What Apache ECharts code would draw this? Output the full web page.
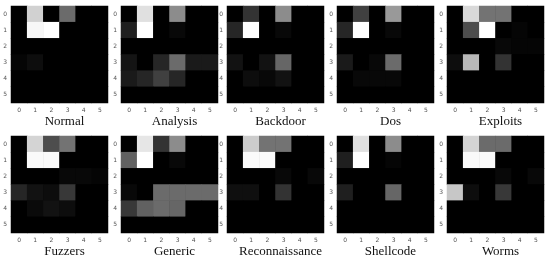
<!DOCTYPE html>
<html><head><meta charset="utf-8">
<script src="https://cdn.jsdelivr.net/npm/echarts@6/dist/echarts.min.js"></script>
<style>html,body{margin:0;padding:0;background:#fff}#c{width:550px;height:260px}</style>
</head><body><div id="c"></div>
<script>
var ticks = ['0','1','2','3','4','5'];
var titles = ['Normal','Analysis','Backdoor','Dos','Exploits','Fuzzers','Generic','Reconnaissance','Shellcode','Worms'];

var normal = [
  [0,0.82,0,0.42,0,0],
  [0,0.97,1.0,0,0,0],
  [0,0,0,0,0,0],
  [0.02,0.05,0,0,0,0],
  [0,0,0,0,0,0],
  [0,0,0,0,0,0]];
var analysis = [
  [0,0.88,0,0.55,0,0],
  [0.12,1.0,0,0.03,0,0],
  [0,0,0,0,0,0],
  [0.08,0,0.15,0.42,0.1,0.1],
  [0.1,0.15,0.25,0.15,0,0],
  [0,0,0,0,0,0]];
var backdoor = [
  [0,0.2,0,0.55,0,0],
  [0.15,1.0,0,0.03,0,0],
  [0,0,0,0,0,0],
  [0.07,0,0.07,0.4,0,0],
  [0,0.05,0.03,0.07,0,0],
  [0,0,0,0,0,0]];
var dos = [
  [0,0.25,0,0.6,0,0],
  [0.15,1.0,0,0.03,0,0],
  [0,0,0,0,0,0],
  [0.1,0,0.03,0.42,0,0],
  [0,0.03,0.03,0.03,0,0],
  [0,0,0,0,0,0]];
var exploits = [
  [0,0.85,0.45,0.45,0,0],
  [0,0.3,1.0,0,0.02,0],
  [0,0,0,0.03,0.02,0.02],
  [0.05,0.72,0,0.2,0,0],
  [0,0,0,0,0,0],
  [0,0,0,0,0,0]];
var fuzzers = [
  [0,0.83,0.3,0.45,0,0],
  [0,0.98,0.98,0,0,0],
  [0,0,0,0.03,0.03,0.02],
  [0.15,0.07,0.05,0.22,0,0],
  [0,0.04,0.07,0.05,0,0],
  [0,0,0,0,0,0]];
var generic = [
  [0,0.9,0.2,0.55,0,0],
  [0.38,1.0,0,0.03,0,0],
  [0,0,0,0,0,0],
  [0.03,0,0.42,0.42,0.42,0.42],
  [0.22,0.38,0.42,0.4,0,0],
  [0,0,0,0,0,0]];
var reconnaissance = [
  [0,0.8,0.45,0.45,0,0],
  [0,0.98,0.98,0,0,0],
  [0,0,0,0.03,0,0.03],
  [0.06,0.06,0,0.2,0,0],
  [0,0,0,0,0,0],
  [0,0,0,0,0,0]];
var shellcode = [
  [0,0.88,0,0.55,0,0],
  [0.12,1.0,0,0.02,0,0],
  [0,0,0,0,0,0],
  [0.12,0,0,0.4,0,0],
  [0,0,0,0,0,0],
  [0,0,0,0,0,0]];
var worms = [
  [0,0.83,0.42,0.42,0,0],
  [0,0.98,0.98,0,0,0],
  [0,0,0,0.03,0,0.03],
  [0.78,0.05,0,0.22,0,0],
  [0,0,0,0,0,0],
  [0,0,0,0,0,0]];

var matrices = [normal,analysis,backdoor,dos,exploits,fuzzers,generic,reconnaissance,shellcode,worms];

var lefts = [11,121,227,337,447];
var tops = [6,136];
var W = 97, H = 97;

var grid=[], xAxis=[], yAxis=[], series=[], title=[];
matrices.forEach(function(m,i){
  var r = Math.floor(i/5), c = i%5;
  grid.push({left:lefts[c], top:tops[r], width:W, height:H, show:true, backgroundColor:'#000', borderWidth:0});
  xAxis.push({type:'category', gridIndex:i, data:ticks,
    axisLine:{show:false}, axisTick:{show:false}, splitLine:{show:false},
    axisLabel:{fontSize:6, color:'#555', margin:4, fontFamily:'DejaVu Sans'}});
  yAxis.push({type:'category', gridIndex:i, data:ticks, inverse:true,
    axisLine:{show:false}, axisTick:{show:false}, splitLine:{show:false},
    axisLabel:{fontSize:6, color:'#555', margin:4, fontFamily:'DejaVu Sans'}});
  var d=[];
  m.forEach(function(row,y){ row.forEach(function(v,x){ d.push([x,y,v]); }); });
  series.push({type:'heatmap', xAxisIndex:i, yAxisIndex:i, data:d, silent:true,
    itemStyle:{borderWidth:0}});
  title.push({text:titles[i], left:lefts[c]+W/2, top:tops[r]+104, textAlign:'center',
    textStyle:{fontFamily:'Liberation Serif', fontSize:13, fontWeight:'normal', color:'#111'}});
});

var chart = echarts.init(document.getElementById('c'));
chart.setOption({
  backgroundColor:'#fff',
  animation:false,
  title:title,
  grid:grid, xAxis:xAxis, yAxis:yAxis,
  visualMap:{show:false, min:0, max:1, inRange:{color:['#000000','#ffffff']}, seriesIndex:[0,1,2,3,4,5,6,7,8,9]},
  series:series
});
</script></body></html>
